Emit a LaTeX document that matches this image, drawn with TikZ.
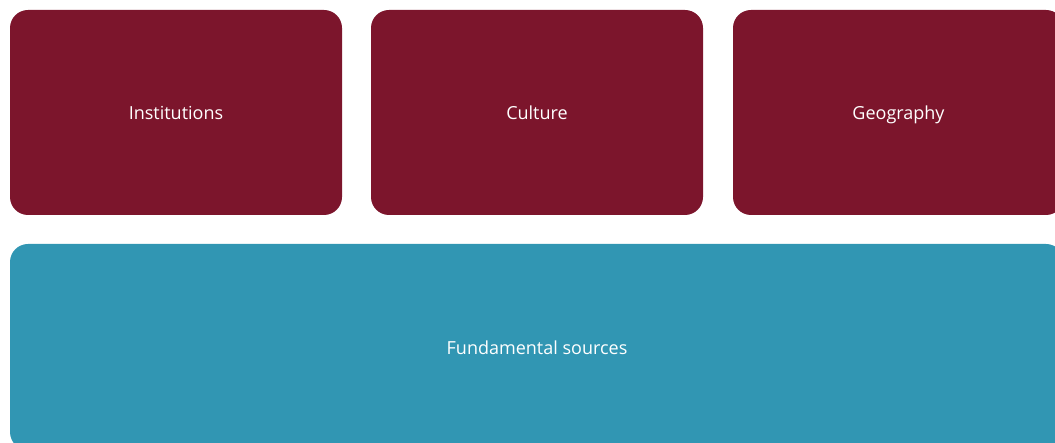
\documentclass[tikz,border=0pt]{standalone}
\usepackage{fontspec}
\setmainfont{Open Sans}
\definecolor{boxred}{HTML}{7C152C}
\definecolor{boxteal}{HTML}{3196B3}
\begin{document}
\begin{tikzpicture}[x=1pt,y=-1pt,
  topbox/.style={fill=boxred,draw=none,rounded corners=18pt},
  basebox/.style={fill=boxteal,draw=none,rounded corners=18pt},
  lbl/.style={text=white,font=\fontsize{18}{21}\selectfont,text height=13pt,text depth=4pt}]
\useasboundingbox (0,0) rectangle (1055,443);
\begin{scope}
\clip (0,0) rectangle (1055,443);
\fill[topbox] (10,10) rectangle (342,215);
\fill[topbox] (371,10) rectangle (703,215);
\fill[topbox] (733,10) rectangle (1064,215);
\fill[basebox] (10,244) rectangle (1064,450);
\end{scope}
\node[lbl] (inst) at (176,115.5) {Institutions};
\node[lbl] (cult) at (537,115.5) {Culture};
\node[lbl] (geo) at (898.5,115.5) {Geography};
\node[lbl] (fund) at (537,350) {Fundamental sources};
\end{tikzpicture}
\end{document}
